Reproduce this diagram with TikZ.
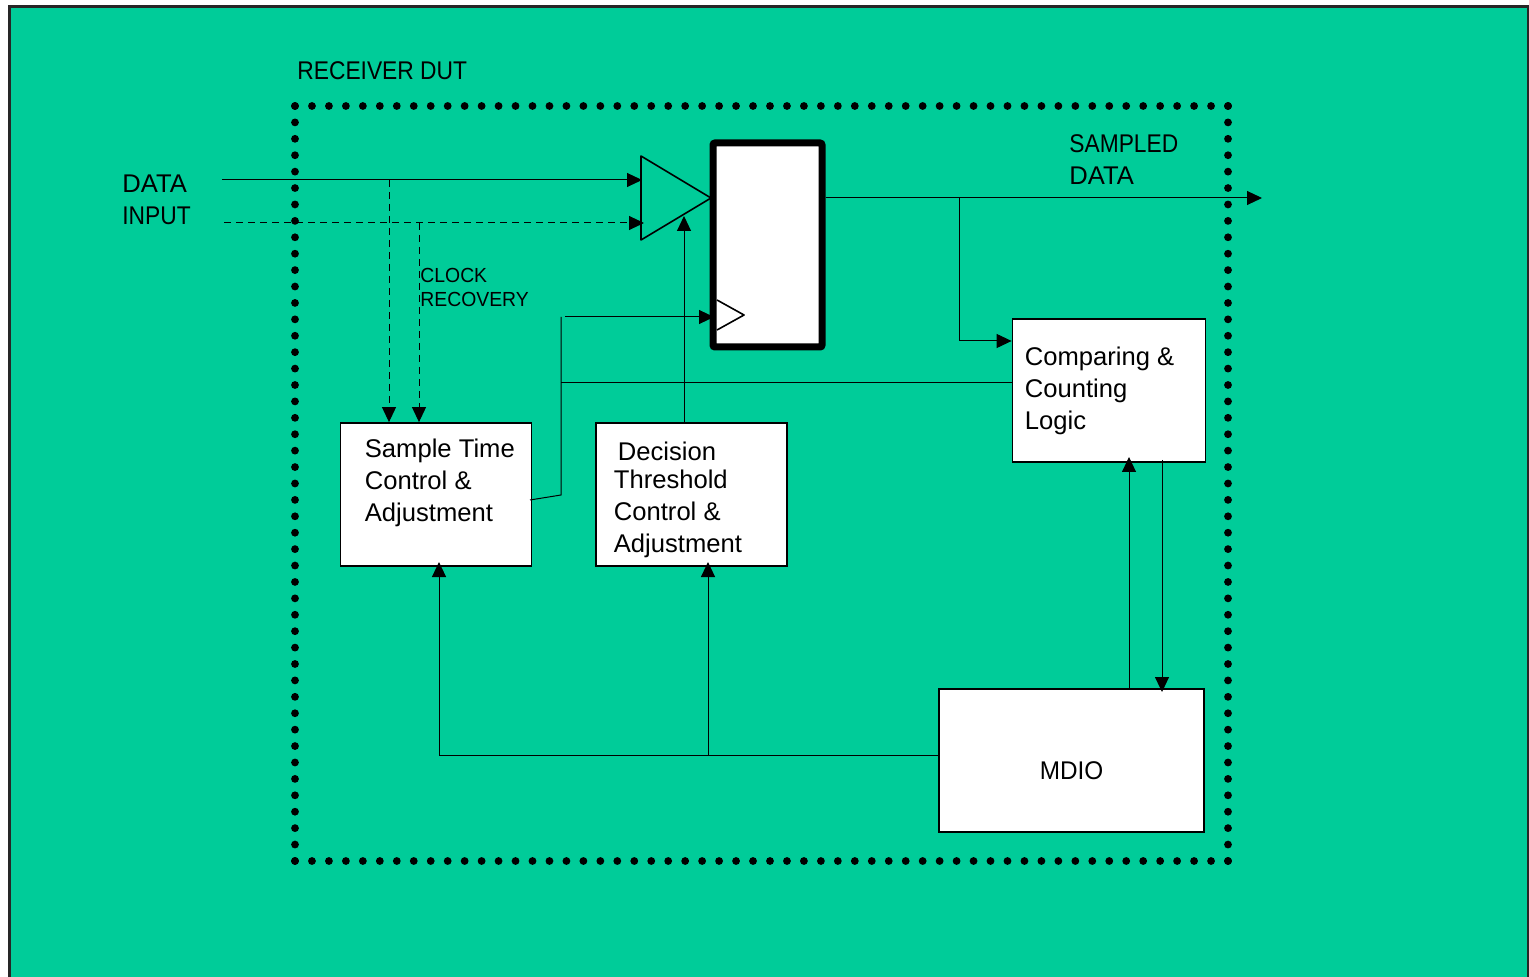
\documentclass[tikz,border=0pt]{standalone}
\usepackage{fontspec}
\setmainfont{Liberation Sans}
\newfontfamily\capsfont[FakeStretch=0.89]{Liberation Sans}
\newfontfamily\softcaps[FakeStretch=0.95]{Liberation Sans}
\usetikzlibrary{arrows.meta}
\definecolor{panelgreen}{RGB}{0,204,153}
\tikzstyle{wire} = [line width=0.5pt, -{Triangle[length=7.5pt,width=7pt]}]
\tikzstyle{plainwire} = [line width=0.5pt]
\tikzstyle{dashwire} = [line width=0.5pt, dash pattern=on 3.5pt off 2.5pt, -{Triangle[length=7.5pt,width=7pt]}]
\tikzstyle{block} = [draw, fill=white, line width=0.9pt, inner sep=0pt]
\tikzstyle{blocktext} = [font=\fontsize{12.8pt}{16pt}\selectfont, align=left, inner sep=0pt]
\tikzstyle{dutdots} = [line width=3.9pt, line cap=round]

\begin{document}
\begin{tikzpicture}[x=0.5pt,y=-0.5pt]
    \useasboundingbox (0,0) rectangle (1529,977);
    \fill[white] (0,0) rectangle (1529,977);
    \draw[fill=panelgreen,line width=1.2pt,draw=black!85] (9.5,6.5) rectangle (1528.5,1000);

    % device boundary
    \draw[dutdots,dash pattern=on 0pt off 8.4818pt] (295,106) -- (1228,106);
    \draw[dutdots,dash pattern=on 0pt off 8.4818pt] (295,861) -- (1228,861);
    \draw[dutdots,dash pattern=on 0pt off 8.206pt] (295,106) -- (295,861);
    \draw[dutdots,dash pattern=on 0pt off 8.206pt] (1228,106) -- (1228,861);
    \node[blocktext,anchor=west] (dutlabel) at (297,71) {\capsfont RECEIVER DUT};

    % blocks
    \node[block,minimum width=95.5pt,minimum height=71.5pt] (sample) at (436,494.5) {};
    \node[block,minimum width=95.5pt,minimum height=71.5pt] (decision) at (691.5,494.5) {};
    \node[block,minimum width=96.5pt,minimum height=71.5pt] (compare) at (1109,390.5) {};
    \node[block,minimum width=132.5pt,minimum height=71.5pt] (mdio) at (1071.5,760.5) {};
    \node[draw,fill=white,line width=3.5pt,rounded corners=1pt,inner sep=0pt,
        minimum width=54.5pt,minimum height=102pt] (register) at (767.5,245) {};

    \node[blocktext,anchor=west] (sampletext) at (364.5,483) {Sample Time\\Control \&\\Adjustment};
    \node[blocktext,anchor=west] (decisiontext) at (613.5,499.5) {\hspace*{2pt}Decision\\[-2pt]Threshold\\Control \&\\Adjustment};
    \node[blocktext,anchor=west] (comparetext) at (1024.5,391) {Comparing \&\\Counting\\Logic};
    \node[blocktext,anchor=center] (mdiotext) at (1071.5,771) {\softcaps MDIO};
    \node[blocktext,anchor=west] (datatext) at (122,200) {DATA\\\capsfont INPUT};
    \node[blocktext,anchor=west] (sampledtext) at (1069,159.5) {\capsfont SAMPLED\\DATA};
    \node[blocktext,anchor=west,font=\fontsize{10.2pt}{12pt}\selectfont] (clocktext) at (420,287.5) {\softcaps CLOCK\\\softcaps RECOVERY};

    % slicer and clock input
    \coordinate (slicertop) at (641,156);
    \coordinate (slicerbot) at (641,240);
    \coordinate (slicertip) at (711,198);
    \draw[line width=0.8pt,line join=round] (slicertop) -- (slicerbot) -- (slicertip) -- cycle;
    \draw[line width=0.8pt,fill=white,line join=round] (717,300) -- (744,315) -- (717,330);

    % free ends and junctions
    \coordinate (datain) at (222,180);
    \coordinate (datahit) at (642,180);
    \coordinate (clkin) at (224,223);
    \coordinate (clkhit) at (644,223);
    \coordinate (datatap) at (389,180);
    \coordinate (clktap) at (419,223);
    \coordinate (sampleout) at (530,500);
    \coordinate (samplebend) at (561,495);
    \coordinate (strobetop) at (561,317);
    \coordinate (strobestart) at (565,317);
    \coordinate (strobehit) at (714,317);
    \coordinate (dataout) at (1262,198);
    \coordinate (outtap) at (959,198);
    \coordinate (outbend) at (959,341);
    \coordinate (countleft) at (561,383);
    \coordinate (mdiobend) at (439,755);
    \coordinate (mdiotap) at (708,755);

    \draw[wire] (datain) -- (datahit);
    \draw[dashwire] (clkin) -- (clkhit);
    \draw[dashwire] (datatap) -- (datatap |- sample.north);
    \draw[dashwire] (clktap) -- (clktap |- sample.north);
    \draw[plainwire] (sampleout) -- (samplebend) -- (strobetop);
    \draw[wire] (strobestart) -- (strobehit);
    \draw[plainwire] (countleft) -- (countleft -| compare.west);
    \draw[wire] (684,423) -- (684,216);
    \draw[wire] (dataout -| register.east) -- (dataout);
    \draw[wire] (outtap) -- (outbend) -- (outbend -| compare.west);
    \draw[wire] (1129,689) -- (1129,457);
    \draw[wire] (1162,460) -- (1162,692);
    \draw[plainwire] (mdiotap -| mdio.west) -- (mdiotap);
    \draw[wire] (mdiotap) -- (mdiobend) -- (439,562);
    \draw[wire] (mdiotap) -- (708,562);
\end{tikzpicture}
\end{document}
